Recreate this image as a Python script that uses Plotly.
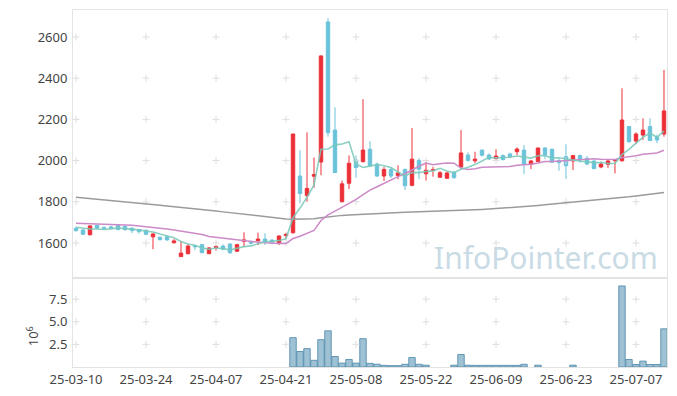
import pandas as pd
import plotly.graph_objects as go
from plotly.subplots import make_subplots

# ---- data ----
holidays = ["2025-05-01", "2025-05-05", "2025-05-06", "2025-06-03", "2025-06-06"]
dates = [d for d in pd.bdate_range("2025-03-10", "2025-07-11") if d.strftime("%Y-%m-%d") not in holidays]
date_labels = [d.strftime("%y-%m-%d") for d in dates]

open_ = [1671, 1663, 1640, 1686, 1676, 1678, 1686, 1680, 1672, 1665,
         1662, 1630, 1628, 1630, 1601, 1534, 1548, 1587, 1592, 1548,
         1578, 1585, 1595, 1560, 1608, 1606, 1611, 1619, 1614, 1599,
         1636, 1650, 1925, 1830, 1924, 1993, 2673, 2148, 1800, 1890,
         2003, 1995, 2055, 1983, 1925, 1957, 1927, 1957, 1880, 2001,
         1936, 1952, 1919, 1914, 1943, 1969, 2027, 1999, 2051, 2027,
         2009, 2024, 2032, 2043, 2051, 1982, 1995, 2061, 2055, 2000,
         2019, 1998, 2024, 2011, 1998, 1969, 1982, 2000, 1999, 2165,
         2095, 2124, 2165, 2116, 2129]
high = [1679, 1668, 1684, 1688, 1680, 1684, 1688, 1686, 1676, 1668,
        1664, 1646, 1631, 1636, 1619, 1606, 1594, 1590, 1594, 1580,
        1590, 1593, 1598, 1596, 1652, 1612, 1650, 1647, 1618, 1636,
        1650, 2130, 2050, 2137, 2015, 2510, 2692, 2259, 1903, 2025,
        2025, 2298, 2094, 1990, 1969, 1965, 1977, 1962, 2158, 2011,
        1995, 1970, 1950, 1945, 1950, 2148, 2040, 2043, 2052, 2035,
        2055, 2030, 2038, 2064, 2076, 2003, 2063, 2066, 2058, 2010,
        2079, 2028, 2030, 2022, 2000, 1995, 2003, 2006, 2351, 2168,
        2137, 2205, 2205, 2126, 2440]
low = [1655, 1640, 1636, 1670, 1668, 1670, 1663, 1658, 1648, 1645,
       1640, 1570, 1612, 1610, 1598, 1532, 1545, 1565, 1550, 1546,
       1563, 1565, 1546, 1556, 1582, 1593, 1590, 1590, 1594, 1590,
       1620, 1645, 1793, 1800, 1868, 1929, 2116, 1940, 1798, 1862,
       1917, 1990, 1972, 1920, 1901, 1915, 1909, 1857, 1875, 1910,
       1903, 1922, 1916, 1912, 1912, 1958, 1995, 1987, 2020, 2003,
       2005, 2000, 2014, 2027, 1934, 1959, 1993, 2007, 1990, 1950,
       1911, 1954, 1990, 1978, 1958, 1963, 1965, 1938, 1995, 2085,
       2080, 2100, 2095, 2085, 2116]
close = [1660, 1642, 1683, 1672, 1672, 1673, 1665, 1666, 1660, 1655,
         1642, 1644, 1616, 1615, 1610, 1551, 1585, 1582, 1553, 1576,
         1582, 1570, 1553, 1592, 1615, 1599, 1619, 1606, 1603, 1634,
         1641, 2129, 1840, 1865, 1932, 2508, 2135, 1942, 1887, 1987,
         1966, 2051, 1975, 1925, 1957, 1925, 1940, 1878, 2007, 1958,
         1953, 1955, 1941, 1940, 1917, 2037, 2001, 2007, 2026, 2008,
         2022, 2005, 2019, 2056, 1982, 1998, 2061, 2027, 1992, 1990,
         1975, 2024, 2003, 1983, 1961, 1983, 1998, 2004, 2197, 2092,
         2129, 2148, 2097, 2100, 2241]
volume_m = [0, 0, 0, 0, 0, 0, 0, 0, 0, 0,
            0, 0, 0, 0, 0, 0, 0, 0, 0, 0,
            0, 0, 0, 0, 0, 0, 0, 0, 0, 0,
            0, 3.24, 1.71, 2.03, 0.74, 3.02, 4.00, 1.16, 0.43, 0.83,
            0.43, 3.13, 0.40, 0.31, 0.18, 0.15, 0.15, 0.30, 1.05, 0.30,
            0.20, 0, 0, 0, 0.20, 1.38, 0.20, 0.18, 0.18, 0.18,
            0.18, 0.18, 0.18, 0.18, 0.30, 0, 0.20, 0, 0, 0,
            0, 0.20, 0, 0, 0, 0, 0, 0, 8.96, 0.83,
            0.28, 0.65, 0.28, 0.28, 4.22]
# moving-average values before the window fills
ma5_head = [1676, 1671, 1668, 1668]
ma20_head = [1696, 1695, 1695, 1694, 1693, 1691, 1690, 1688, 1686, 1683,
             1680, 1676, 1672, 1668, 1663, 1658, 1652, 1647, 1641]
ma120 = [1822, 1819, 1816, 1813, 1810, 1806, 1803, 1800, 1796, 1793,
         1790, 1786, 1783, 1779, 1776, 1772, 1769, 1765, 1762, 1758,
         1755, 1751, 1747, 1743, 1739, 1735, 1731, 1727, 1723, 1720,
         1717, 1715, 1715, 1716, 1718, 1722, 1727, 1731, 1734, 1736,
         1738, 1740, 1742, 1744, 1746, 1747, 1748, 1749, 1750, 1751,
         1752, 1753, 1754, 1755, 1756, 1757, 1759, 1761, 1763, 1765,
         1767, 1769, 1771, 1773, 1776, 1779, 1782, 1785, 1788, 1791,
         1794, 1797, 1800, 1803, 1806, 1809, 1812, 1816, 1820, 1824,
         1828, 1833, 1837, 1841, 1845]
price_ticks = [1600, 1800, 2000, 2200, 2400, 2600]
vol_ticks = [2.5, 5.0, 7.5]

# ---- derived ----
idx = list(range(len(close)))
s = pd.Series(close, dtype=float)
ma5 = s.rolling(5).mean()
ma5.iloc[:len(ma5_head)] = ma5_head
ma20 = s.rolling(20).mean()
ma20.iloc[:len(ma20_head)] = ma20_head
xtick_idx = idx[::10]
xtick_txt = [date_labels[i] for i in xtick_idx]
vol_plot = [v if v > 0 else None for v in volume_m]

RED = "#ec3038"
BLUE = "#6bc3da"
GRID = "#dedede"
FONT = "Noto Sans"

fig = make_subplots(rows=2, cols=1, shared_xaxes=True, vertical_spacing=0,
                    row_heights=[0.7507, 0.2493])

# grid crosses
gx = [x for x in xtick_idx for _ in price_ticks]
gy = [y for _ in xtick_idx for y in price_ticks]
fig.add_trace(go.Scatter(x=gx, y=gy, mode="markers", hoverinfo="skip", showlegend=False,
                         marker=dict(symbol="cross-thin", size=5, line=dict(color=GRID, width=1))),
              row=1, col=1)
gx2 = [x for x in xtick_idx for _ in vol_ticks]
gy2 = [y for _ in xtick_idx for y in vol_ticks]
fig.add_trace(go.Scatter(x=gx2, y=gy2, mode="markers", hoverinfo="skip", showlegend=False,
                         marker=dict(symbol="cross-thin", size=5, line=dict(color=GRID, width=1))),
              row=2, col=1)

fig.add_trace(go.Candlestick(
    x=idx, open=open_, high=high, low=low, close=close, showlegend=False,
    whiskerwidth=0,
    increasing=dict(line=dict(color=RED, width=1), fillcolor=RED),
    decreasing=dict(line=dict(color=BLUE, width=1), fillcolor=BLUE)), row=1, col=1)

fig.add_trace(go.Scatter(x=idx, y=ma120, mode="lines", showlegend=False,
                         line=dict(color="#9b9b9b", width=1.5)), row=1, col=1)
fig.add_trace(go.Scatter(x=idx, y=ma20, mode="lines", showlegend=False,
                         line=dict(color="#cc8ac8", width=1.5)), row=1, col=1)
fig.add_trace(go.Scatter(x=idx, y=ma5, mode="lines", showlegend=False,
                         line=dict(color="rgba(120,200,185,0.85)", width=1.6)), row=1, col=1)

fig.add_trace(go.Bar(x=idx, y=vol_plot, showlegend=False,
                     marker=dict(color="rgba(125,172,196,0.75)",
                                 line=dict(color="rgba(85,143,175,0.9)", width=1))),
              row=2, col=1)

xr = [-0.43, len(close) - 1 + 0.43]
axis_common = dict(showline=True, mirror=True, linecolor="#e3e3e3", linewidth=1,
                   showgrid=False, zeroline=False, automargin=False)
fig.update_xaxes(range=xr, **axis_common)
fig.update_xaxes(showticklabels=False, rangeslider_visible=False, row=1, col=1)
fig.update_xaxes(tickmode="array", tickvals=xtick_idx, ticktext=xtick_txt,
                 ticks="", row=2, col=1)
fig.update_yaxes(range=[1430, 2731], tickvals=price_ticks, ticklabelstandoff=2,
                 **axis_common, row=1, col=1)
fig.update_yaxes(range=[0, 9.84], tickvals=vol_ticks, ticktext=["2.5", "5.0", "7.5"],
                 ticklabelstandoff=2, **axis_common, row=2, col=1)

# exponent label of the volume axis
fig.add_annotation(text="10<sup>6</sup>", xref="paper", yref="paper", x=-0.068, y=0.085,
                   xanchor="center", yanchor="middle", textangle=-90, showarrow=False,
                   font=dict(family=FONT, size=13, color="#444"))
# watermark
fig.add_annotation(text="InfoPointer.com", xref="paper", yref="paper", x=0.797, y=0.308,
                   xanchor="center", yanchor="middle", showarrow=False,
                   font=dict(family=FONT, size=30, color="#c9dbe5"))

fig.update_layout(
    width=677, height=396, margin=dict(l=73, r=10, t=10, b=29),
    paper_bgcolor="white", plot_bgcolor="white", bargap=0.08,
    font=dict(family=FONT, size=13, color="#444"),
    showlegend=False,
)
fig.write_html("out.html", config={"displayModeBar": False},
               post_script="document.body.style.margin='0';document.body.style.overflow='hidden';")
